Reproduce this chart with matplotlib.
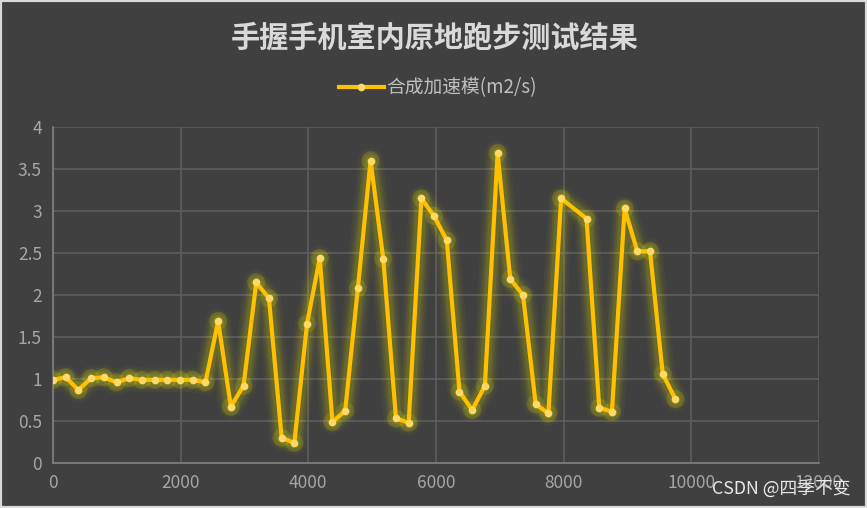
import matplotlib.pyplot as plt
from matplotlib.patches import Rectangle

plt.rcParams['font.family'] = ['Noto Sans CJK SC', 'DejaVu Sans']

# sample times (ms) and acceleration magnitude
x_values = [0, 199, 398, 597, 796, 995, 1194, 1393, 1592, 1791,
            1990, 2189, 2388, 2587, 2786, 2985, 3184, 3383, 3582, 3781,
            3980, 4179, 4378, 4577, 4776, 4975, 5174, 5373, 5572, 5771,
            5970, 6169, 6368, 6567, 6766, 6965, 7164, 7363, 7562, 7761,
            7960, 8358, 8557, 8756, 8955, 9154, 9353, 9552, 9751]
acc_values = [0.99, 1.02, 0.87, 1.01, 1.02, 0.96, 1.01, 0.99, 0.99, 0.99,
              0.99, 0.99, 0.96, 1.69, 0.67, 0.92, 2.15, 1.96, 0.30, 0.24,
              1.66, 2.44, 0.49, 0.62, 2.08, 3.60, 2.43, 0.53, 0.48, 3.15,
              2.94, 2.65, 0.85, 0.63, 0.92, 3.69, 2.19, 2.00, 0.70, 0.59,
              3.15, 2.91, 0.66, 0.61, 3.03, 2.52, 2.52, 1.06, 0.76]
x_ticks = [0, 2000, 4000, 6000, 8000, 10000, 12000]
y_ticks = [0, 0.5, 1, 1.5, 2, 2.5, 3, 3.5, 4]
y_tick_labels = ['0', '0.5', '1', '1.5', '2', '2.5', '3', '3.5', '4']

bg = '#404040'
fig = plt.figure(figsize=(8.67, 5.08), dpi=100, facecolor=bg)
ax = fig.add_axes([53 / 867, 45 / 508, 766 / 867, 336 / 508])
ax.set_facecolor(bg)

# glow under the line
for lw, a in [(18, 0.04), (14, 0.06), (11, 0.08), (8, 0.11)]:
    ax.plot(x_values, acc_values, color='#e6e600', lw=lw, alpha=a,
            solid_capstyle='round', solid_joinstyle='round', zorder=2)
ax.scatter(x_values, acc_values, s=170, color='#e6e600', alpha=0.15,
           edgecolors='none', zorder=2)

line, = ax.plot(x_values, acc_values, color='#ffc000', lw=3,
                marker='o', markersize=4.5, markerfacecolor='#ffd966',
                markeredgecolor='#ffd966', zorder=3, label='合成加速模(m2/s)')

ax.set_xlim(0, 12000)
ax.set_ylim(0, 4)
ax.set_xticks(x_ticks)
ax.set_yticks(y_ticks)
ax.set_yticklabels(y_tick_labels)
ax.grid(True, color='#5e5e5e', lw=1.2)
ax.set_axisbelow(True)
for side in ['top', 'right']:
    ax.spines[side].set_visible(False)
for side in ['left', 'bottom']:
    ax.spines[side].set_color('#808080')
    ax.spines[side].set_linewidth(1.2)
ax.tick_params(length=0, colors='#a6a6a6', labelsize=12.5, pad=8)

fig.text(435 / 867, 1 - 38 / 508, '手握手机室内原地跑步测试结果', ha='center', va='center',
         fontsize=21, fontweight='bold', color='#d9d9d9')
leg = ax.legend(handles=[line], loc='center', bbox_to_anchor=(438 / 867, 1 - 88 / 508),
                bbox_transform=fig.transFigure, frameon=False, fontsize=13.5,
                handlelength=2.4, handletextpad=0.15)
for t in leg.get_texts():
    t.set_color('#bfbfbf')

fig.text(850 / 867, 1 - 489 / 508, 'CSDN @四季不变', ha='right', va='center',
         fontsize=12.8, color='#e8e8e8')

fig.patches.append(Rectangle((0, 0), 1, 1, transform=fig.transFigure, fill=False,
                             edgecolor='#d9d9d9', lw=3))

fig.savefig('out.png', dpi=100, facecolor=bg)
